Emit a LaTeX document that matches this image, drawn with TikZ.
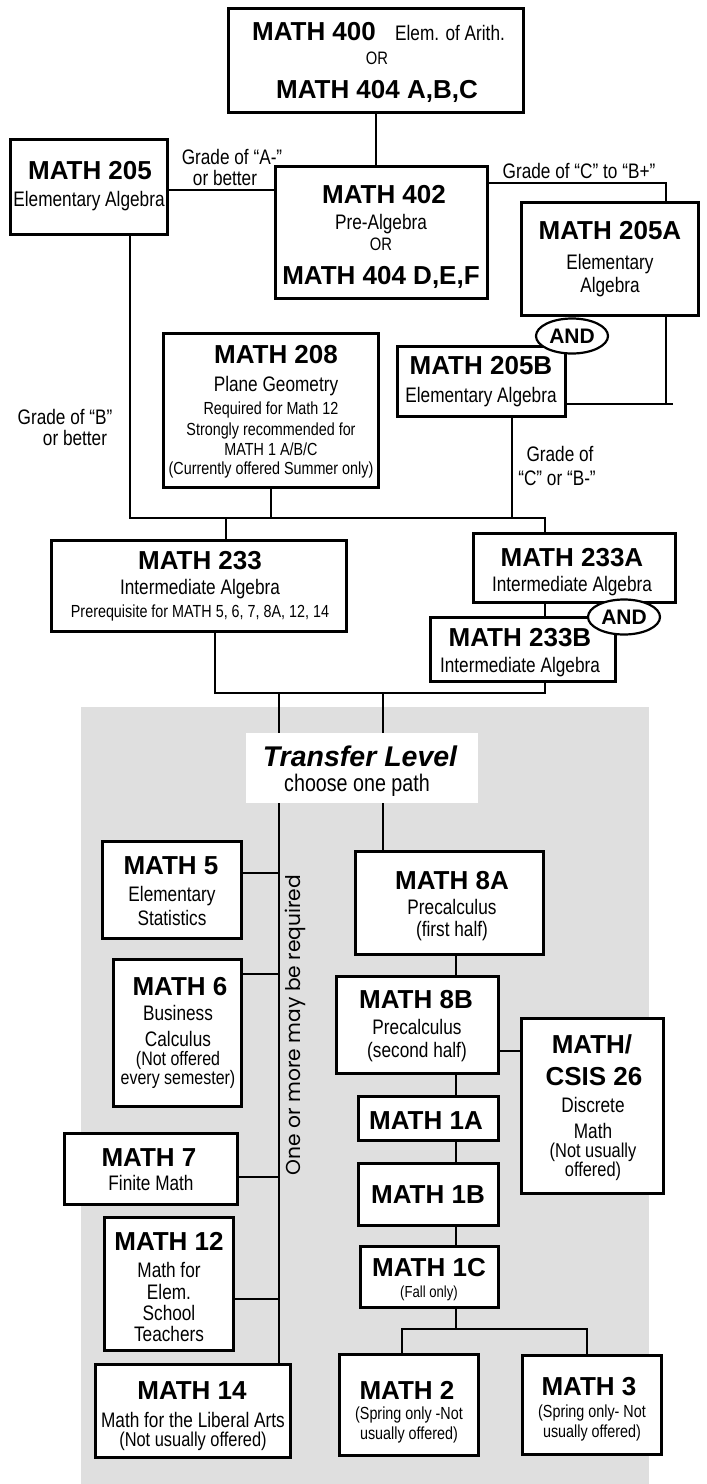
\documentclass[tikz,border=0pt]{standalone}
\usepackage{fontspec}
\usepackage{graphicx}
\setmainfont{Liberation Sans}
\newfontfamily\nar{Liberation Sans}[FakeStretch=0.82]
\newfontfamily\vfont{Poppins}
\usetikzlibrary{shapes.geometric}
\definecolor{bg}{RGB}{223,223,223}
\tikzset{
  box/.style={draw, line width=2.6pt, fill=white, rectangle, inner sep=0pt},
  conn/.style={line width=2.3pt},
  thinconn/.style={line width=1.3pt},
  hd/.style={font=\fontsize{26}{26}\selectfont\bfseries, anchor=base, inner sep=0pt},
  tx/.style={font=\nar\fontsize{21}{21}\selectfont, anchor=base, inner sep=0pt},
  sm/.style={font=\nar\fontsize{17.5}{17.5}\selectfont, anchor=base, inner sep=0pt},
  andnode/.style={ellipse, draw, line width=2.2pt, fill=white, minimum width=72pt, minimum height=35pt, inner sep=0pt, font=\fontsize{21}{21}\selectfont\bfseries},
}
\newcommand\mybox[5]{\node[box, minimum width={(#4-#2-2.6)*1pt}, minimum height={(#5-#3-2.6)*1pt}] (#1) at ({(#2+#4)/2},{(#3+#5)/2}) {};}
\begin{document}
\begin{tikzpicture}[x=1pt,y=-1pt]
\useasboundingbox (0,0) rectangle (707,1484);
\fill[bg] (81,707) rectangle (649,1484);
% boxes
\mybox{b400}{227}{7}{525}{114}
\mybox{b205}{9}{138}{169}{236}
\mybox{b402}{274}{165}{489}{300}
\mybox{b205a}{520}{201}{700}{317}
\mybox{b205b}{396}{345}{567}{418}
\mybox{b208}{162}{332}{380}{489}
\mybox{b233}{50}{539}{348}{633}
\mybox{b233a}{472}{532}{677}{604}
\mybox{b233b}{429}{616}{617}{683}
\mybox{b5}{101}{840}{243}{940}
\mybox{b8a}{354}{850}{545}{956}
\mybox{b6}{112}{958}{243}{1108}
\mybox{b8b}{335}{975}{500}{1075}
\mybox{b26}{520}{1017}{665}{1195}
\mybox{b1a}{357}{1095}{500}{1142}
\mybox{b7}{63}{1132}{239}{1206}
\mybox{b1b}{357}{1162}{500}{1227}
\mybox{b12}{103}{1216}{235}{1352}
\mybox{b1c}{359}{1245}{500}{1309}
\mybox{b14}{94}{1363}{292}{1459}
\mybox{b2}{338}{1353}{480}{1457}
\mybox{b3}{521}{1354}{663}{1456}
% connectors
\coordinate (a1) at (0,190);
\coordinate (j1) at (666,183);
\coordinate (j2) at (666,404);
\coordinate (j2e) at (673,404);
\coordinate (j3) at (512,518);
\coordinate (hl) at (130,518);
\coordinate (hr) at (545,518);
\coordinate (j4) at (271,518);
\coordinate (j5) at (226,518);
\coordinate (k1) at (215,693);
\coordinate (k2) at (545,693);
\coordinate (vl) at (279,693);
\coordinate (vr) at (383,693);
\coordinate (m5) at (279,873);
\coordinate (m6) at (279,974);
\coordinate (m7) at (279,1177);
\coordinate (m12) at (279,1299);
\coordinate (sp) at (456,0);
\coordinate (q) at (510,1051);
\coordinate (r) at (456,1329);
\coordinate (r2) at (402,1329);
\coordinate (r3) at (587,1329);
\draw[conn] (b400.south) -- (b400.south |- b402.north);
\draw[conn] (a1 -| b205.east) -- (a1 -| b402.west);
\draw[conn] (j1 -| b402.east) -- (j1) -- (j1 |- b205a.north);
\draw[conn] (j2 |- b205a.south) -- (j2);
\draw[conn] (j2 -| b205b.east) -- (j2e);
\draw[conn] (j3 |- b205b.south) -- (j3);
\draw[conn] (hl |- b205.south) -- (hl) -- (hr) -- (hr |- b233a.north);
\draw[conn] (j4 |- b208.south) -- (j4);
\draw[conn] (j5) -- (j5 |- b233.north);
\draw[conn] (b233a.south -| hr) -- (b233b.north -| hr);
\draw[conn] (k1 |- b233.south) -- (k1) -- (k2) -- (k2 |- b233b.south);
\draw[conn] (vl) -- (vl |- b14.north);
\draw[conn] (vr) -- (vr |- b8a.north);
\draw[thinconn] (m5 -| b5.east) -- (m5);
\draw[conn] (m6 -| b6.east) -- (m6);
\draw[conn] (m7 -| b7.east) -- (m7);
\draw[thinconn] (m12 -| b12.east) -- (m12);
\draw[conn] (b8a.south -| sp) -- (b8b.north -| sp);
\draw[conn] (q -| b8b.east) -- (q -| b26.west);
\draw[conn] (b8b.south -| sp) -- (b1a.north -| sp);
\draw[conn] (b1a.south -| sp) -- (b1b.north -| sp);
\draw[conn] (b1b.south -| sp) -- (b1c.north -| sp);
\draw[conn] (b1c.south -| sp) -- (r);
\draw[conn] (r2 |- b2.north) -- (r2) -- (r3) -- (r3 |- b3.north);
% transfer label box
\node[fill=white, minimum width=232pt, minimum height=70pt, inner sep=0pt] (tl) at (362,768) {};
\node[anchor=base, inner sep=0pt, font=\fontsize{28.5}{28.5}\selectfont\bfseries\itshape] (tlh) at (360,766) {Transfer Level};
\node[anchor=base, inner sep=0pt, font=\nar\fontsize{24}{24}\selectfont] (tls) at (357,791) {choose one path};
% AND ellipses
\node[andnode] (and1) at (572,336) {AND};
\node[andnode] (and2) at (624,617) {AND};
% vertical text
\node[rotate=90, inner sep=0pt, font=\vfont\fontsize{20}{20}\selectfont] (vt) at (295,1025) {\resizebox{300pt}{!}{One or more may be required}};
% texts
\node[hd] (h400) at (314,40) {MATH 400};
\node[tx] (e400) at (450,40) {Elem. of Arith.};
\node[tx, font=\nar\fontsize{18}{18}\selectfont] (or1) at (377,64) {OR};
\node[hd] (h404) at (377,98) {MATH 404 A,B,C};
\node[hd] (h205) at (90,179) {MATH 205};
\node[tx] (s205) at (89,206) {Elementary Algebra};
\node[hd] (h402) at (384,203) {MATH 402};
\node[tx] (s402) at (381,229) {Pre-Algebra};
\node[tx, font=\nar\fontsize{18}{18}\selectfont] (or2) at (381,250) {OR};
\node[hd] (h404b) at (381,284) {MATH 404 D,E,F};
\node[hd] (h205a) at (610,239) {MATH 205A};
\node[tx] (s205a1) at (610,269) {Elementary};
\node[tx] (s205a2) at (610,292) {Algebra};
\node[hd] (h205b) at (481,374) {MATH 205B};
\node[tx] (s205b) at (481,402) {Elementary Algebra};
\node[hd] (h208) at (276,363) {MATH 208};
\node[tx] (s208) at (276,391) {Plane Geometry};
\node[sm] (s208a) at (271,414) {Required for Math 12};
\node[sm] (s208b) at (271,435) {Strongly recommended for};
\node[sm] (s208c) at (271,455) {MATH 1 A/B/C};
\node[sm] (s208d) at (271,474) {(Currently offered Summer only)};
\node[tx] (gA1) at (232,164) {Grade of “A-”};
\node[tx] (gA2) at (225,185) {or better};
\node[tx] (gC) at (579,178) {Grade of “C” to “B+”};
\node[tx] (gB1) at (65,424) {Grade of “B”};
\node[tx] (gB2) at (75,445) {or better};
\node[tx] (gD1) at (560,461) {Grade of};
\node[tx] (gD2) at (557,485) {“C” or “B-”};
\node[hd] (h233) at (200,569) {MATH 233};
\node[tx] (s233) at (200,594) {Intermediate Algebra};
\node[sm] (p233) at (200,617) {Prerequisite for MATH 5, 6, 7, 8A, 12, 14};
\node[hd] (h233a) at (572,566) {MATH 233A};
\node[tx] (s233a) at (572,591) {Intermediate Algebra};
\node[hd] (h233b) at (520,646) {MATH 233B};
\node[tx] (s233b) at (520,672) {Intermediate Algebra};
\node[hd] (h5) at (171,874) {MATH 5};
\node[tx] (s5a) at (172,901) {Elementary};
\node[tx] (s5b) at (172,925) {Statistics};
\node[hd] (h8a) at (452,889) {MATH 8A};
\node[tx] (s8a1) at (452,914) {Precalculus};
\node[tx] (s8a2) at (452,936) {(first half)};
\node[hd] (h6) at (180,995) {MATH 6};
\node[tx] (s6a) at (178,1020) {Business};
\node[tx] (s6b) at (178,1046) {Calculus};
\node[tx, font=\nar\fontsize{19.5}{19.5}\selectfont] (s6c) at (178,1065) {(Not offered};
\node[tx, font=\nar\fontsize{19.5}{19.5}\selectfont] (s6d) at (178,1084) {every semester)};
\node[hd] (h8b) at (416,1008) {MATH 8B};
\node[tx] (s8b1) at (417,1034) {Precalculus};
\node[tx] (s8b2) at (417,1057) {(second half)};
\node[hd] (h26a) at (592,1053) {MATH/};
\node[hd] (h26b) at (594,1085) {CSIS 26};
\node[tx] (s26a) at (593,1112) {Discrete};
\node[tx] (s26b) at (593,1138) {Math};
\node[tx, font=\nar\fontsize{20}{20}\selectfont] (s26c) at (593,1157) {(Not usually};
\node[tx, font=\nar\fontsize{20}{20}\selectfont] (s26d) at (593,1176) {offered)};
\node[hd] (h1a) at (426,1129) {MATH 1A};
\node[hd] (h7) at (149,1166) {MATH 7};
\node[tx] (s7) at (151,1190) {Finite Math};
\node[hd] (h1b) at (428,1203) {MATH 1B};
\node[hd] (h12) at (169,1250) {MATH 12};
\node[tx] (s12a) at (169,1277) {Math for};
\node[tx] (s12b) at (169,1299) {Elem.};
\node[tx] (s12c) at (169,1320) {School};
\node[tx] (s12d) at (169,1341) {Teachers};
\node[hd] (h1c) at (429,1276) {MATH 1C};
\node[sm, font=\nar\fontsize{16}{16}\selectfont] (s1c) at (429,1297) {(Fall only)};
\node[hd] (h14) at (192,1399) {MATH 14};
\node[tx] (s14a) at (193,1427) {Math for the Liberal Arts};
\node[tx, font=\nar\fontsize{20}{20}\selectfont] (s14b) at (193,1446) {(Not usually offered)};
\node[hd] (h2) at (407,1399) {MATH 2};
\node[sm] (s2a) at (409,1419) {(Spring only -Not};
\node[sm] (s2b) at (409,1439) {usually offered)};
\node[hd] (h3) at (589,1395) {MATH 3};
\node[sm] (s3a) at (592,1417) {(Spring only- Not};
\node[sm] (s3b) at (592,1437) {usually offered)};
\end{tikzpicture}
\end{document}
